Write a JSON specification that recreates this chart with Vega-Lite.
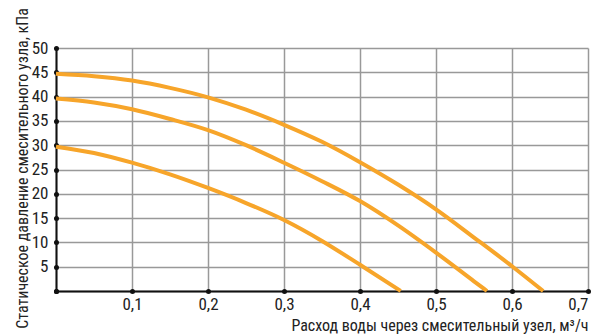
{
  "$schema": "https://vega.github.io/schema/vega-lite/v6.json",
  "autosize": {"type": "none"},
  "width": 532,
  "height": 243,
  "padding": {"left": 56, "top": 48, "right": 10, "bottom": 45},
  "background": "white",
  "config": {
    "font": "Roboto Condensed, Liberation Sans Narrow, DejaVu Sans Condensed, sans-serif",
    "view": {"stroke": null},
    "axis": {
      "labelFont": "Roboto Condensed, Liberation Sans Narrow, DejaVu Sans Condensed, sans-serif",
      "titleFont": "Roboto Condensed, Liberation Sans Narrow, DejaVu Sans Condensed, sans-serif",
      "labelFontSize": 17,
      "titleFontWeight": "normal",
      "labelColor": "#222",
      "titleColor": "#222",
      "gridColor": "#999",
      "gridWidth": 1.5,
      "gridOpacity": 1,
      "domainColor": "#111",
      "domainWidth": 2,
      "tickColor": "#111",
      "tickSize": 0.01,
      "tickWidth": 5,
      "tickCap": "round"
    }
  },
  "datasets": {
    "curves": [
      {"s": "a", "q": 0, "p": 44.7},
      {"s": "a", "q": 0.05, "p": 44.2},
      {"s": "a", "q": 0.1, "p": 43.3},
      {"s": "a", "q": 0.15, "p": 41.8},
      {"s": "a", "q": 0.2, "p": 39.85},
      {"s": "a", "q": 0.25, "p": 37.3},
      {"s": "a", "q": 0.3, "p": 34.2},
      {"s": "a", "q": 0.35, "p": 30.7},
      {"s": "a", "q": 0.4, "p": 26.5},
      {"s": "a", "q": 0.45, "p": 21.9},
      {"s": "a", "q": 0.5, "p": 16.8},
      {"s": "a", "q": 0.55, "p": 11.0},
      {"s": "a", "q": 0.6, "p": 5.1},
      {"s": "a", "q": 0.641, "p": 0},
      {"s": "b", "q": 0, "p": 39.6},
      {"s": "b", "q": 0.05, "p": 38.8},
      {"s": "b", "q": 0.1, "p": 37.4},
      {"s": "b", "q": 0.15, "p": 35.4},
      {"s": "b", "q": 0.2, "p": 33.1},
      {"s": "b", "q": 0.25, "p": 30.0},
      {"s": "b", "q": 0.3, "p": 26.4},
      {"s": "b", "q": 0.35, "p": 22.6},
      {"s": "b", "q": 0.4, "p": 18.5},
      {"s": "b", "q": 0.45, "p": 13.5},
      {"s": "b", "q": 0.5, "p": 7.9},
      {"s": "b", "q": 0.55, "p": 2.0},
      {"s": "b", "q": 0.567, "p": 0},
      {"s": "c", "q": 0, "p": 29.7},
      {"s": "c", "q": 0.05, "p": 28.4},
      {"s": "c", "q": 0.1, "p": 26.4},
      {"s": "c", "q": 0.15, "p": 24.0},
      {"s": "c", "q": 0.2, "p": 21.2},
      {"s": "c", "q": 0.25, "p": 18.1},
      {"s": "c", "q": 0.3, "p": 14.6},
      {"s": "c", "q": 0.35, "p": 10.3},
      {"s": "c", "q": 0.4, "p": 5.4},
      {"s": "c", "q": 0.4535, "p": 0}
    ]
  },
  "data": {"name": "curves"},
  "layer": [
    {
      "mark": {"type": "line", "interpolate": "monotone", "strokeWidth": 4, "color": "#f7a52a", "strokeCap": "butt"},
      "encoding": {
        "x": {
          "field": "q", "type": "quantitative",
          "scale": {"domain": [0, 0.7], "nice": false, "zero": true},
          "axis": {
            "values": [0, 0.1, 0.2, 0.3, 0.4, 0.5, 0.6, 0.7],
            "labelExpr": "datum.value == 0 ? '' : replace(format(datum.value, '.1f'), '.', ',')",
            "labelPadding": 5,
            "title": "Расход воды через смесительный узел, м³/ч",
            "titleAnchor": "end",
            "titleBaseline": "alphabetic",
            "titleY": 39,
            "titleFontSize": 16
          }
        },
        "y": {
          "field": "p", "type": "quantitative",
          "scale": {"domain": [0, 50], "nice": false},
          "axis": {
            "values": [0, 5, 10, 15, 20, 25, 30, 35, 40, 45, 50],
            "labelExpr": "datum.value == 0 ? '' : datum.label",
            "labelPadding": 8,
            "title": "Статическое давление смесительного узла, кПа",
            "titleBaseline": "alphabetic",
            "titleX": -29,
            "titleY": 120,
            "titleFontSize": 16
          }
        },
        "detail": {"field": "s"}
      }
    }
  ]
}
